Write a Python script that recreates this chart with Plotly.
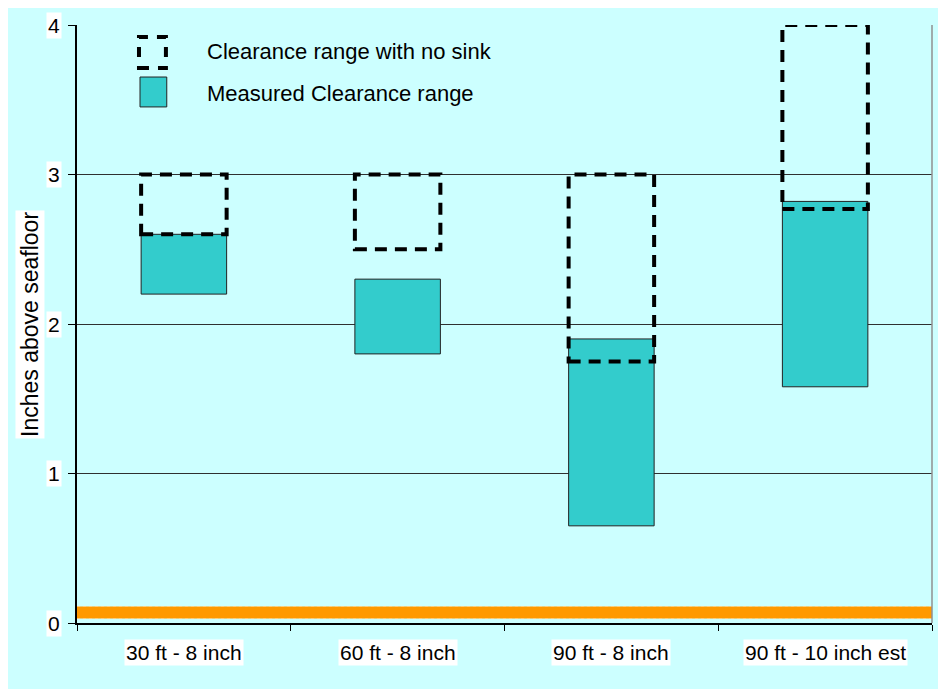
"""Clearance ranges above the seafloor, per tow configuration."""

import plotly.graph_objects as go

categories = ["30 ft - 8 inch", "60 ft - 8 inch", "90 ft - 8 inch", "90 ft - 10 inch est"]
measured_low = [2.2, 1.8, 0.65, 1.58]
measured_high = [2.6, 2.3, 1.9, 2.82]
nosink_low = [2.6, 2.5, 1.75, 2.77]
nosink_high = [3.0, 3.0, 3.0, 4.0]
seabed_level = 0.07
y_ticks = [0, 1, 2, 3, 4]

FONT = "Arial, Liberation Sans, sans-serif"
BG = "#CCFFFF"
TEAL = "#33CCCC"
BAR_W = 0.4

xs = list(range(len(categories)))

fig = go.Figure()

# --- plage mesurée : barres flottantes ---
fig.add_trace(
    go.Bar(
        x=xs,
        y=[h - l for l, h in zip(measured_low, measured_high)],
        base=measured_low,
        width=BAR_W,
        marker=dict(color=TEAL, line=dict(color="#222222", width=1)),
        showlegend=False,
        hovertemplate="%{base:.2f} - %{y:.2f}<extra></extra>",
    )
)

# --- plage sans enfoncement : rectangles pointillés ---
for x, lo, hi in zip(xs, nosink_low, nosink_high):
    fig.add_shape(
        type="rect",
        xref="x",
        yref="y",
        x0=x - BAR_W / 2,
        x1=x + BAR_W / 2,
        y0=lo,
        y1=hi,
        line=dict(color="black", width=4, dash="12px,8px"),
        fillcolor="rgba(0,0,0,0)",
        layer="above",
    )

# --- fond marin ---
fig.add_hline(y=seabed_level, line=dict(color="#FF9900", width=12))
fig.add_hline(y=seabed_level, line=dict(color="white", width=13, dash="3px,3px"), layer="below")

# right border of the plot area
fig.add_shape(
    type="line", xref="paper", yref="paper", x0=1, x1=1, y0=0, y1=1,
    line=dict(color="#909090", width=1.5),
)

# --- légende manuelle ---
fig.add_shape(
    type="rect", xref="paper", yref="paper",
    x0=0.0725, x1=0.104, y0=0.928, y1=0.980,
    line=dict(color="black", width=4, dash="10px,9px"),
)
fig.add_shape(
    type="rect", xref="paper", yref="paper",
    x0=0.0737, x1=0.105, y0=0.863, y1=0.913,
    fillcolor=TEAL, line=dict(color="#222222", width=1),
)
for ytxt, txt in ((0.955, "Clearance range with no sink"), (0.886, "Measured Clearance range")):
    fig.add_annotation(
        x=0.15, y=ytxt, xref="paper", yref="paper", text=txt,
        showarrow=False, xanchor="left", yanchor="middle",
        font=dict(family=FONT, size=22, color="black"),
    )

# --- étiquettes des axes (fond blanc comme l'original) ---
for x, cat in zip(xs, categories):
    fig.add_annotation(
        x=x, y=0, xref="x", yref="paper", text=cat,
        showarrow=False, yanchor="middle", yshift=-29,
        bgcolor="white", borderpad=1,
        font=dict(family=FONT, size=21, color="black"),
    )
for v in y_ticks:
    fig.add_annotation(
        x=0, y=v, xref="paper", yref="y", text=str(v),
        showarrow=False, xanchor="right", xshift=-15,
        bgcolor="white", borderpad=1,
        font=dict(family=FONT, size=21, color="black"),
    )
fig.add_annotation(
    x=-0.055, y=0.5, xref="paper", yref="paper", text="Inches above seafloor",
    showarrow=False, textangle=-90, xanchor="center", yanchor="middle",
    bgcolor="white", borderpad=1,
    font=dict(family=FONT, size=23, color="black"),
)

fig.update_xaxes(
    range=[-0.5, len(categories) - 0.5],
    tickvals=[i - 0.5 for i in range(len(categories) + 1)],
    showticklabels=False,
    ticks="outside", ticklen=6, tickcolor="black",
    showline=True, linecolor="black", linewidth=1.5,
    showgrid=False, zeroline=False,
)
fig.update_yaxes(
    range=[0, 4],
    tickvals=y_ticks,
    showticklabels=False,
    ticks="outside", ticklen=7, tickcolor="black",
    showline=True, linecolor="black", linewidth=1.5,
    showgrid=True, gridcolor="#303030", gridwidth=1,
    zeroline=False,
)
fig.update_layout(
    width=938,
    height=681,
    margin=dict(l=69, r=14, t=17, b=66),
    paper_bgcolor=BG,
    plot_bgcolor=BG,
    font=dict(family=FONT, size=20, color="black"),
    showlegend=False,
)

fig.write_html("out.html")
